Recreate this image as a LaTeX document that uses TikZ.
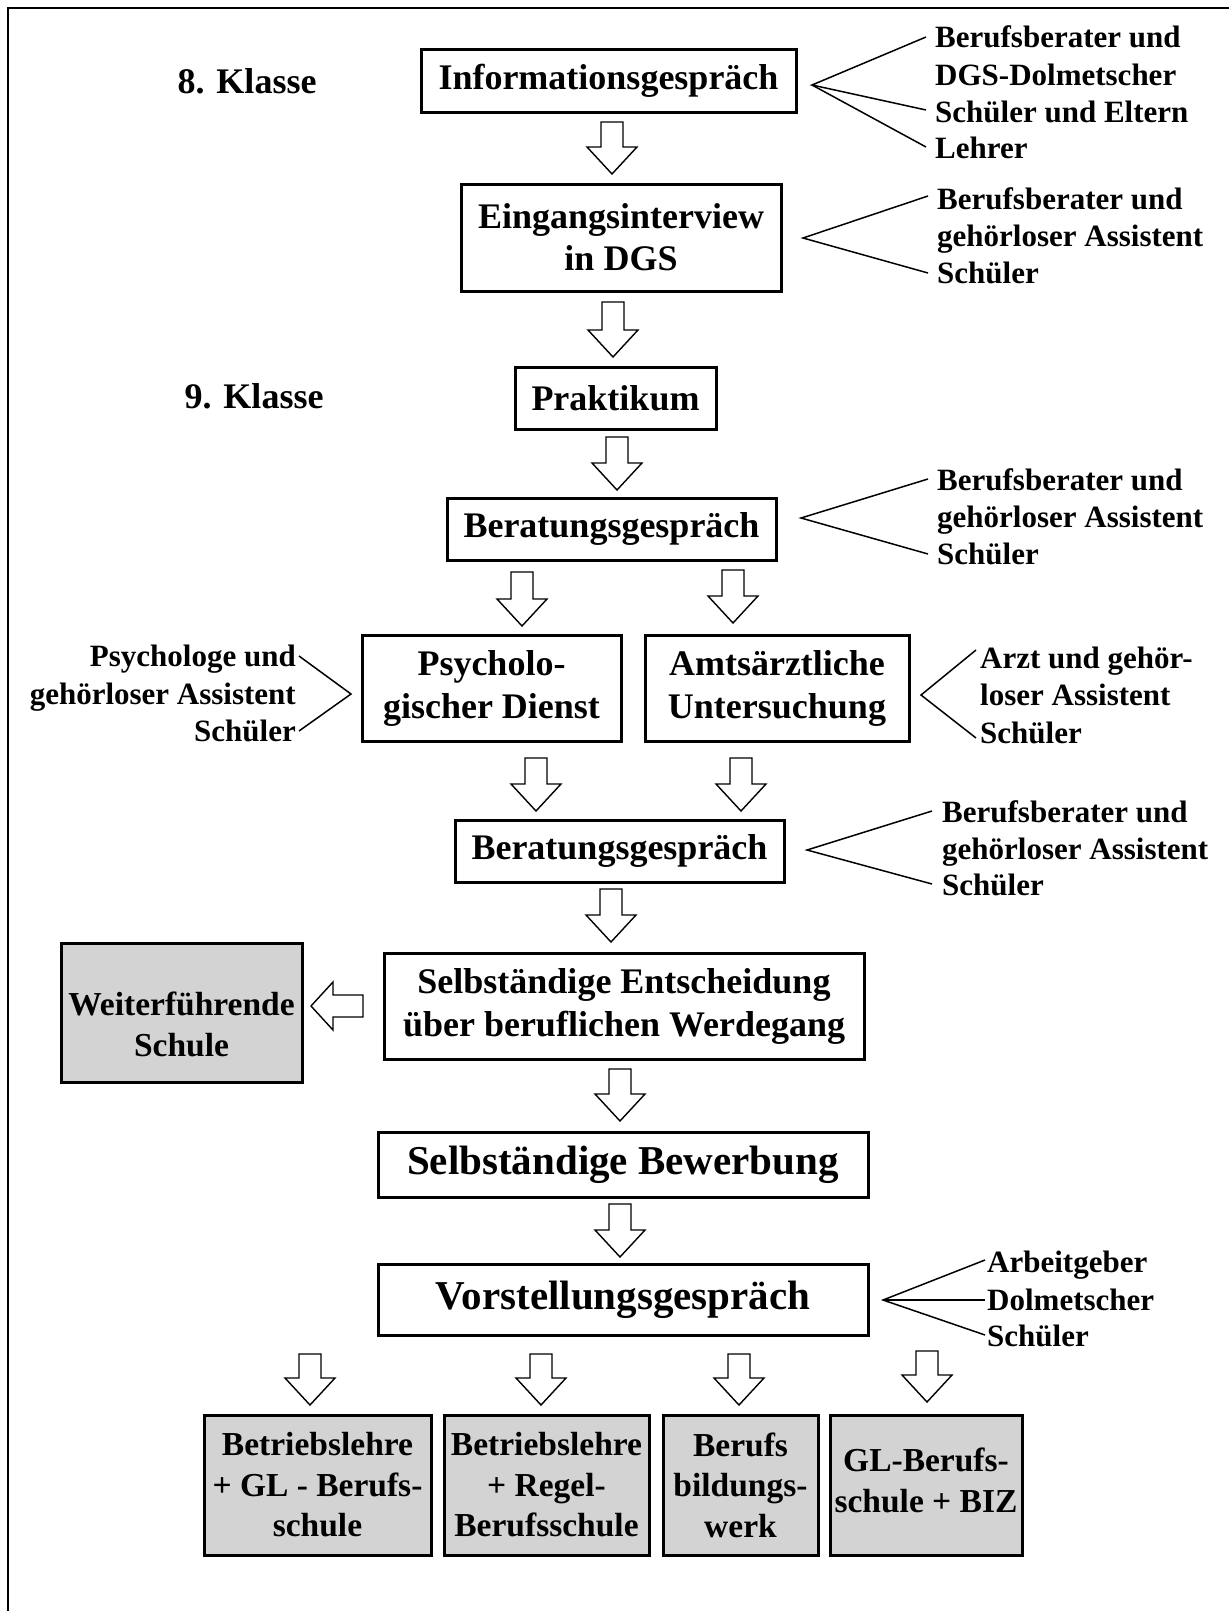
\documentclass[tikz,border=0pt]{standalone}
\usepackage{fontspec}
\setmainfont{Liberation Serif}
\definecolor{boxgray}{RGB}{211,211,211}
% block arrow pointing down: centre x, top y, tip y
\newcommand{\dnarrow}[3]{\draw[arrowline] ({#1-11},#2) -- ({#1+11},#2) -- ({#1+11},{#3-27})
  -- ({#1+25},{#3-27}) -- (#1,#3) -- ({#1-25},{#3-27}) -- ({#1-11},{#3-27}) -- cycle;}
\begin{document}
\begin{tikzpicture}[x=1pt,y=-1pt,
  flowbox/.style={draw, line width=3pt, fill=white, inner sep=0pt, align=center,
    font=\bfseries\fontsize{36}{42}\selectfont},
  graybox/.style={flowbox, fill=boxgray, font=\bfseries\fontsize{33.5}{40.5}\selectfont},
  bigbox/.style={flowbox, font=\bfseries\fontsize{41}{48}\selectfont},
  arrowline/.style={draw, line width=1.4pt, fill=white, line join=miter},
  lbl/.style={font=\bfseries\fontsize{31}{37}\selectfont, inner sep=0pt},
  klasse/.style={font=\bfseries\fontsize{36}{42}\selectfont, inner sep=0pt},
  leg/.style={line width=1.5pt}]
\useasboundingbox (0,0) rectangle (1229,1611);
% frame
\draw[line width=1.5pt] (1229,8) -- (8,8) -- (8,1611);

% class labels
\node[klasse, anchor=base] (k8) at (247,93) {8. Klasse};
\node[klasse, anchor=base] (k9) at (254,408) {9. Klasse};

% boxes
\node[flowbox, minimum width=375pt, minimum height=62pt] (info) at (608.5,81) {Informationsgespräch};
\node[flowbox, minimum width=320pt, minimum height=107pt] (eing) at (621,237.5) {Eingangsinterview\\in DGS};
\node[flowbox, minimum width=201pt, minimum height=62pt] (prak) at (615.5,398) {Praktikum};
\node[flowbox, minimum width=329pt, minimum height=62pt] (ber1) at (611.5,529) {Beratungsgespräch};
\node[flowbox, minimum width=259pt, minimum height=106pt, font=\bfseries\fontsize{36}{43}\selectfont] (psy) at (491.5,688) {Psycholo-\\gischer Dienst};
\node[flowbox, minimum width=264pt, minimum height=106pt, font=\bfseries\fontsize{36}{43}\selectfont] (amt) at (777,688) {Amtsärztliche\\Untersuchung};
\node[flowbox, minimum width=329pt, minimum height=62pt] (ber2) at (619.5,851) {Beratungsgespräch};
\node[flowbox, minimum width=480pt, minimum height=106pt, font=\bfseries\fontsize{36}{43}\selectfont] (ent) at (624,1006) {Selbständige Entscheidung\\über beruflichen Werdegang};
\node[graybox, minimum width=241pt, minimum height=139pt] (weit) at (181.5,1012.5) {\rule{0pt}{47pt}Weiterführende\\Schule};
\node[bigbox, minimum width=490pt, minimum height=65pt] (bew) at (623,1164.5) {Selbständige Bewerbung};
\node[bigbox, minimum width=490pt, minimum height=71pt] (vor) at (623,1299.5) {Vorstellungsgespräch};
\node[graybox, minimum width=227pt, minimum height=140pt] (ga) at (317.5,1485) {Betriebslehre\\+ GL - Berufs-\\schule};
\node[graybox, minimum width=205pt, minimum height=140pt] (gb) at (546.5,1485) {Betriebslehre\\+ Regel-\\Berufsschule};
\node[graybox, minimum width=155pt, minimum height=140pt] (gc) at (740.5,1485) {Berufs\\bildungs-\\werk};
\node[graybox, minimum width=192pt, minimum height=140pt] (gd) at (926,1485) {GL-Berufs-\\schule + BIZ\rule[-10pt]{0pt}{10pt}};

% block arrows
\dnarrow{612}{122}{174}
\dnarrow{613}{302}{357}
\dnarrow{617}{437}{490}
\dnarrow{522}{572}{626}
\dnarrow{733}{570}{623}
\dnarrow{536}{758}{811}
\dnarrow{741}{758}{811}
\dnarrow{611}{889}{942}
\dnarrow{620}{1069}{1121}
\dnarrow{620}{1204}{1257}
\dnarrow{310}{1354}{1405}
\dnarrow{541}{1354}{1405}
\dnarrow{739}{1354}{1405}
\dnarrow{927}{1351}{1402}
% arrow towards Weiterfuehrende Schule
\draw[arrowline] (363,995) -- (363,1017) -- (333,1017) -- (333,1030) -- (311,1006)
  -- (333,982) -- (333,995) -- cycle;

% participants: Informationsgespraech
\node[lbl, anchor=base west] (p1a) at (935,48) {Berufsberater und};
\node[lbl, anchor=base west] (p1b) at (935,85) {DGS-Dolmetscher};
\node[lbl, anchor=base west] (p1c) at (935,122) {Schüler und Eltern};
\node[lbl, anchor=base west] (p1d) at (935,158) {Lehrer};
\coordinate (x1) at (812,85);
\coordinate (e1a) at (926,37);
\coordinate (e1b) at (926,110);
\coordinate (e1c) at (926,147);
\draw[leg] (e1a) -- (x1) -- (e1b);
\draw[leg] (x1) -- (e1c);

% Eingangsinterview
\node[lbl, anchor=base west] (p2a) at (937,209) {Berufsberater und};
\node[lbl, anchor=base west] (p2b) at (937,246) {gehörloser Assistent};
\node[lbl, anchor=base west] (p2c) at (937,283) {Schüler};
\coordinate (x2) at (803,238);
\coordinate (e2a) at (928,196);
\coordinate (e2b) at (928,273);
\draw[leg] (e2a) -- (x2) -- (e2b);

% Beratungsgespraech 1
\node[lbl, anchor=base west] (p3a) at (937,490) {Berufsberater und};
\node[lbl, anchor=base west] (p3b) at (937,527) {gehörloser Assistent};
\node[lbl, anchor=base west] (p3c) at (937,564) {Schüler};
\coordinate (x3) at (801,518);
\coordinate (e3a) at (928,479);
\coordinate (e3b) at (928,554);
\draw[leg] (e3a) -- (x3) -- (e3b);

% Psychologischer Dienst (left)
\node[lbl, anchor=base east] (p4a) at (296,666) {Psychologe und};
\node[lbl, anchor=base east] (p4b) at (296,704) {gehörloser Assistent};
\node[lbl, anchor=base east] (p4c) at (296,741) {Schüler};
\coordinate (x4) at (351,694);
\coordinate (e4a) at (299,656);
\coordinate (e4b) at (299,731);
\draw[leg] (e4a) -- (x4) -- (e4b);

% Amtsaerztliche Untersuchung (right)
\node[lbl, anchor=base west] (p5a) at (980,668) {Arzt und gehör-};
\node[lbl, anchor=base west] (p5b) at (980,705) {loser Assistent};
\node[lbl, anchor=base west] (p5c) at (980,743) {Schüler};
\coordinate (x5) at (921,695);
\coordinate (e5a) at (976,650);
\coordinate (e5b) at (976,738);
\draw[leg] (e5a) -- (x5) -- (e5b);

% Beratungsgespraech 2
\node[lbl, anchor=base west] (p6a) at (942,822) {Berufsberater und};
\node[lbl, anchor=base west] (p6b) at (942,859) {gehörloser Assistent};
\node[lbl, anchor=base west] (p6c) at (942,895) {Schüler};
\coordinate (x6) at (807,850);
\coordinate (e6a) at (932,811);
\coordinate (e6b) at (932,884);
\draw[leg] (e6a) -- (x6) -- (e6b);

% Vorstellungsgespraech
\node[lbl, anchor=base west] (p7a) at (987,1272) {Arbeitgeber};
\node[lbl, anchor=base west] (p7b) at (987,1310) {Dolmetscher};
\node[lbl, anchor=base west] (p7c) at (987,1346) {Schüler};
\coordinate (x7) at (883,1300);
\coordinate (e7a) at (985,1260);
\coordinate (e7b) at (985,1300);
\coordinate (e7c) at (985,1335);
\draw[leg] (e7a) -- (x7) -- (e7c);
\draw[leg] (x7) -- (e7b);
\end{tikzpicture}
\end{document}
